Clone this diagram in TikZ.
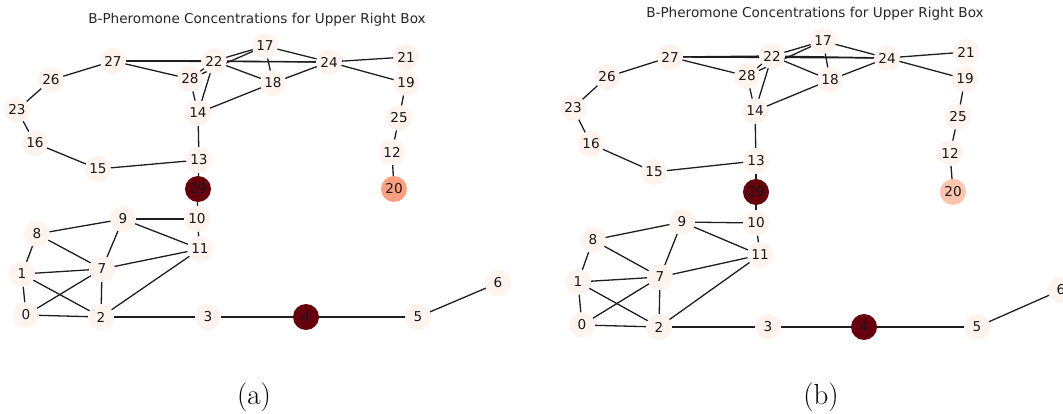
\documentclass[tikz,border=0pt]{standalone}
\usepackage{fontspec}
\newfontfamily\plotfont{DejaVu Sans}
\usetikzlibrary{backgrounds}
\definecolor{lowred}{RGB}{255,243,238}
\definecolor{topred}{RGB}{103,0,13}
\definecolor{midred}{RGB}{252,160,128}
\definecolor{paleorange}{RGB}{252,196,172}
\definecolor{edgegray}{RGB}{30,30,30}
\newcommand{\pheroedges}{27/22,27/24,27/28,27/26,26/23,23/16,16/15,15/13,13/14,13/29,
  14/28,14/22,14/18,22/17,28/17,28/22,22/24,22/18,17/18,17/24,24/18,24/21,24/19,
  19/25,25/12,12/20,29/10,10/11,10/9,9/11,9/8,9/7,8/7,8/1,1/7,1/0,1/2,0/7,0/2,
  7/2,7/11,2/11,2/3,3/4,4/5,5/6}

\begin{document}
\begin{tikzpicture}[
  x=1pt,y=-1pt,
  vert/.style={circle,fill=lowred,minimum size=26pt,inner sep=0pt,
               font=\fontsize{13.6}{15}\plotfont,text=black!90},
  link/.style={draw=edgegray,line width=1.3pt},
  plottitle/.style={font=\fontsize{13.6}{15}\plotfont,text=black!85},
  subcap/.style={font=\fontsize{29}{32}\selectfont},
]
\useasboundingbox (0,0) rectangle (1063,414);
\clip (0,0) rectangle (1063,414);

% ---- panel (a) ----
\node[plottitle] (titleA) at (257,20) {B-Pheromone Concentrations for Upper Right Box};
\foreach \n/\x/\y/\c in {17/265/46/lowred,22/214/61/lowred,27/113/61/lowred,
    26/51/80/lowred,28/190/79/lowred,24/329/62/lowred,21/406/57/lowred,
    18/273/83/lowred,19/406/83/lowred,23/17/110/lowred,14/198/113/lowred,
    25/399/118/lowred,16/35/143/lowred,12/392/152/lowred,13/199/160/lowred,
    15/98/169/lowred,29/198/189/topred,20/394/189/midred,10/197/219/lowred,
    9/123/219/lowred,8/37/234/lowred,11/200/249/lowred,1/22/274/lowred,
    7/102/269/lowred,6/498/283/lowred,0/26/315/lowred,2/101/317/lowred,
    3/208/317/lowred,4/306/317/topred,5/418/317/lowred}
  \node[vert,fill=\c] (a\n) at (\x,\y) {\n};
\begin{scope}[on background layer]
  \foreach \u/\v in \pheroedges \draw[link] (a\u.center) -- (a\v.center);
\end{scope}
\node[subcap] (capA) at (254,397) {(a)};

% ---- panel (b) ----
\node[plottitle] (titleB) at (815,14) {B-Pheromone Concentrations for Upper Right Box};
\foreach \n/\x/\y/\c in {17/823/41/lowred,22/772/56/lowred,27/670/57/lowred,
    24/887/58/lowred,21/966/52/lowred,26/607/77/lowred,28/747/76/lowred,
    18/830/80/lowred,19/965/79/lowred,23/573/108/lowred,14/755/111/lowred,
    25/958/117/lowred,16/591/144/lowred,12/950/153/lowred,13/756/161/lowred,
    15/654/172/lowred,29/756/192/topred,20/953/192/paleorange,10/756/223/lowred,
    9/682/222/lowred,8/593/240/lowred,11/760/255/lowred,1/578/282/lowred,
    7/660/277/lowred,6/1061/290/lowred,0/582/325/lowred,2/659/327/lowred,
    3/768/327/lowred,4/864/327/topred,5/977/327/lowred}
  \node[vert,fill=\c] (b\n) at (\x,\y) {\n};
\begin{scope}[on background layer]
  \foreach \u/\v in \pheroedges \draw[link] (b\u.center) -- (b\v.center);
\end{scope}
\node[subcap] (capB) at (821,397) {(b)};
\end{tikzpicture}
\end{document}
